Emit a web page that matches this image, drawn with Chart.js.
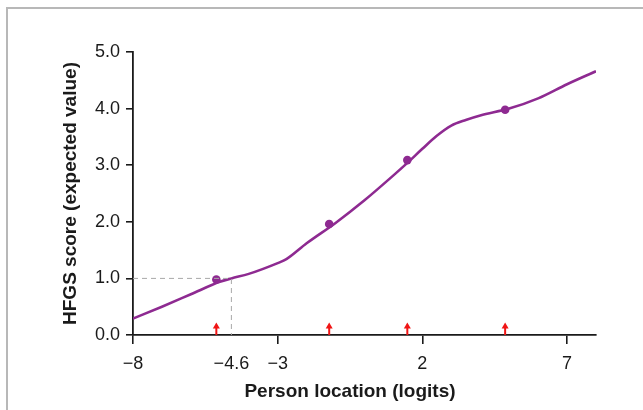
<!DOCTYPE html>
<html>
<head>
<meta charset="utf-8">
<script src="https://cdn.jsdelivr.net/npm/chart.js@4.4.1/dist/chart.umd.min.js"></script>
<style>
  html, body { margin: 0; padding: 0; background: #ffffff; }
  #wrap { position: relative; width: 643px; height: 410px; overflow: hidden; }
  #frame { position: absolute; left: 6px; top: 7px; width: 660px; height: 430px;
           border-top: 2px solid #b8b8b8; border-left: 2px solid #b8b8b8; box-sizing: border-box; }
  canvas { position: absolute; left: 0; top: 0; }
</style>
</head>
<body>
<div id="wrap">
  <div id="frame"></div>
  <canvas id="c" width="643" height="410"></canvas>
</div>
<script>
// ---- data ----
const xTickValues = [-8, -4.6, -3, 2, 7];
const yTickValues = [0, 1, 2, 3, 4, 5];
const curveX = [-8, -7, -6, -5, -4.6, -4, -3, -2.7, -2, -1, 0, 1, 1.5, 2, 2.5, 3, 3.5, 4, 5, 6, 7, 8];
const curveY = [0.29, 0.50, 0.72, 0.94, 1.00, 1.08, 1.27, 1.34, 1.62, 1.98, 2.38, 2.82, 3.05, 3.29, 3.52, 3.70, 3.80, 3.88, 4.00, 4.18, 4.43, 4.66];
const obsX = [-5.12, -1.22, 1.48, 4.86];
const obsY = [0.98, 1.96, 3.09, 3.98];
const arrowX = [-5.12, -1.22, 1.48, 4.86];
const arrowTop = 0.22;
const refX = -4.6;
const refY = 1.0;
const xTitle = 'Person location (logits)';
const yTitle = 'HFGS score (expected value)';

const PURPLE = '#8e2a91';
const AXIS = '#1a1a1a';
const FONT = '"Liberation Sans", Arial, sans-serif';

const fmt = v => (v < 0 ? '\u2212' + Math.abs(v) : String(v));

const arrowsPlugin = {
  id: 'arrows',
  afterDatasetsDraw(chart) {
    const { ctx, scales: { x, y } } = chart;
    ctx.save();
    ctx.strokeStyle = '#f01414';
    ctx.fillStyle = '#f01414';
    arrowX.forEach(v => {
      const px = x.getPixelForValue(v);
      const y0 = y.getPixelForValue(0);
      const y1 = y.getPixelForValue(arrowTop);
      ctx.lineWidth = 2;
      ctx.beginPath();
      ctx.moveTo(px, y0);
      ctx.lineTo(px, y1 + 4);
      ctx.stroke();
      ctx.beginPath();
      ctx.moveTo(px, y1);
      ctx.lineTo(px - 3.5, y1 + 6);
      ctx.lineTo(px + 3.5, y1 + 6);
      ctx.closePath();
      ctx.fill();
    });
    ctx.restore();
  }
};

const titlesPlugin = {
  id: 'titles',
  afterDraw(chart) {
    const { ctx, chartArea } = chart;
    ctx.save();
    ctx.fillStyle = AXIS;
    ctx.font = 'bold 19px ' + FONT;
    ctx.textAlign = 'center';
    ctx.textBaseline = 'alphabetic';
    ctx.fillText(xTitle, 350, 397);
    ctx.translate(76, (chartArea.top + chartArea.bottom) / 2);
    ctx.rotate(-Math.PI / 2);
    ctx.fillText(yTitle, 0, 0);
    ctx.restore();
  }
};

new Chart(document.getElementById('c'), {
  type: 'line',
  data: {
    datasets: [
      {
        data: [{ x: curveX[0], y: refY }, { x: refX, y: refY }, { x: refX, y: 0 }],
        borderColor: '#a8a8a8',
        borderWidth: 1,
        borderDash: [5, 4],
        pointRadius: 0,
        tension: 0
      },
      {
        data: curveX.map((v, i) => ({ x: v, y: curveY[i] })),
        borderColor: PURPLE,
        borderWidth: 2.6,
        pointRadius: 0,
        cubicInterpolationMode: 'monotone'
      },
      {
        data: obsX.map((v, i) => ({ x: v, y: obsY[i] })),
        showLine: false,
        pointRadius: 4.3,
        pointBackgroundColor: PURPLE,
        pointBorderColor: PURPLE,
        pointBorderWidth: 0
      }
    ]
  },
  options: {
    responsive: false,
    animation: false,
    devicePixelRatio: 1,
    layout: { padding: { left: 0, right: 47, top: 52, bottom: 0 } },
    plugins: { legend: { display: false }, tooltip: { enabled: false } },
    scales: {
      x: {
        type: 'linear',
        min: -8,
        max: 8,
        afterBuildTicks: axis => { axis.ticks = xTickValues.map(v => ({ value: v })); },
        afterFit: axis => { axis.height = 75; },
        ticks: {
          autoSkip: false,
          maxRotation: 0,
          padding: 9,
          color: AXIS,
          font: { family: FONT, size: 18 },
          callback: v => fmt(v)
        },
        grid: {
          drawOnChartArea: false,
          drawTicks: true,
          tickLength: 9,
          lineWidth: 1.6,
          color: c => (c.tick && c.tick.value === refX ? 'rgba(0,0,0,0)' : AXIS)
        },
        border: { display: true, color: AXIS, width: 1.8 }
      },
      y: {
        type: 'linear',
        min: 0,
        max: 5,
        afterBuildTicks: axis => { axis.ticks = yTickValues.map(v => ({ value: v })); },
        afterFit: axis => { axis.width = 133; },
        ticks: {
          padding: 6,
          color: AXIS,
          font: { family: FONT, size: 18 },
          callback: v => Number(v).toFixed(1)
        },
        grid: {
          drawOnChartArea: false,
          drawTicks: true,
          tickLength: 7,
          lineWidth: 1.6,
          color: AXIS
        },
        border: { display: true, color: AXIS, width: 1.8 }
      }
    }
  },
  plugins: [arrowsPlugin, titlesPlugin]
});
</script>
</body>
</html>
